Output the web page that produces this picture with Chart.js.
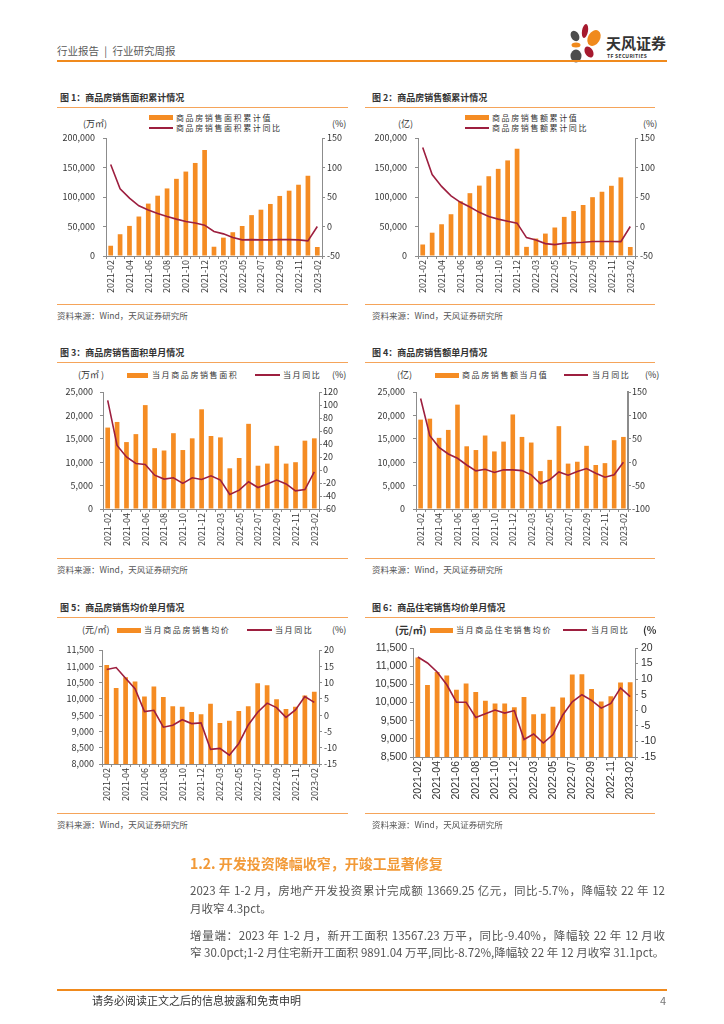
<!DOCTYPE html>
<html>
<head>
<meta charset="utf-8">
<script src="https://cdn.jsdelivr.net/npm/chart.js@4.4.0/dist/chart.umd.min.js"></script>
<style>
body{margin:0;width:724px;height:1024px;background:#fff;position:relative;overflow:hidden;font-family:"Noto Sans CJK SC",sans-serif;}
.t{position:absolute;white-space:nowrap;}
.hl{position:absolute;height:1px;background:#f5a45a;}
.title{font-size:9px;font-weight:bold;color:#333;line-height:12px;}
.src{font-size:8.5px;color:#555;line-height:12px;}
.lg{font-size:8px;letter-spacing:1.6px;color:#333;line-height:10px;}
.unit{font-size:9px;color:#333;line-height:10px;}
.box{position:absolute;background:#f58c23;}
.ln{position:absolute;height:2px;background:#9d1f3f;}
.body{font-size:11.5px;color:#555;line-height:16px;}
canvas{position:absolute;}
</style>
</head>
<body>

<!-- ヘッダー -->
<div class="t" style="left:57px;top:43px;font-size:10.5px;line-height:15px;color:#595959;">行业报告 <span style="display:inline-block;width:3px;"></span>|<span style="display:inline-block;width:3px;"></span> 行业研究周报</div>
<svg style="position:absolute;left:560px;top:20px;" width="50" height="46" viewBox="560 20 50 46">
  <ellipse cx="585" cy="31" rx="3" ry="7" fill="#a6192e" transform="rotate(10 585 31)"/>
  <ellipse cx="594" cy="38" rx="6" ry="8.5" fill="#f08a1d" transform="rotate(30 594 38)"/>
  <ellipse cx="575" cy="36" rx="4" ry="5.5" fill="#4d4d4d" transform="rotate(-30 575 36)"/>
  <ellipse cx="576" cy="45" rx="4.5" ry="2.5" fill="#f08a1d"/>
  <ellipse cx="589" cy="52" rx="4" ry="6" fill="#a6192e" transform="rotate(-30 589 52)"/>
  <ellipse cx="576" cy="56" rx="5.5" ry="6.5" fill="#4d4d4d"/>
</svg>
<div class="t" style="left:606px;top:34px;font-size:15px;font-weight:bold;line-height:18px;color:#333;">天风证券</div>
<div class="t" style="left:607px;top:53px;font-size:5px;font-weight:bold;line-height:6px;color:#333;letter-spacing:0.3px;">TF SECURITIES</div>
<div style="position:absolute;left:57px;top:60px;width:610px;height:2px;background:#f08a1d;"></div>

<!-- 図1 -->
<div class="t title" style="left:60px;top:92px;">图 1：商品房销售面积累计情况</div>
<div class="hl" style="left:57px;top:107px;width:291px;"></div>
<div class="box" style="left:149px;top:115px;width:24px;height:5px;"></div>
<div class="t lg" style="left:176px;top:113px;">商品房销售面积累计值</div>
<div class="ln" style="left:149px;top:126.5px;width:24px;"></div>
<div class="t lg" style="left:176px;top:122.5px;">商品房销售面积累计同比</div>
<div class="t unit" style="left:83px;top:119px;">(万㎡)</div>
<div class="t unit" style="left:332px;top:119px;">(%)</div>
<canvas id="c1" width="293" height="190" style="left:57px;top:110px;"></canvas>
<div class="hl" style="left:57px;top:304px;width:291px;"></div>
<div class="t src" style="left:57px;top:308.5px;">资料来源：Wind，天风证券研究所</div>

<!-- 図2 -->
<div class="t title" style="left:372px;top:92px;">图 2：商品房销售额累计情况</div>
<div class="hl" style="left:365px;top:107px;width:290px;"></div>
<div class="box" style="left:465px;top:115px;width:24px;height:5px;"></div>
<div class="t lg" style="left:492px;top:113px;">商品房销售额累计值</div>
<div class="ln" style="left:465px;top:126.5px;width:24px;"></div>
<div class="t lg" style="left:492px;top:122.5px;">商品房销售额累计同比</div>
<div class="t unit" style="left:398px;top:119px;">(亿)</div>
<div class="t unit" style="left:643px;top:119px;">(%)</div>
<canvas id="c2" width="290" height="190" style="left:365px;top:110px;"></canvas>
<div class="hl" style="left:365px;top:304px;width:290px;"></div>
<div class="t src" style="left:372px;top:308.5px;">资料来源：Wind，天风证券研究所</div>

<!-- 図3 -->
<div class="t title" style="left:60px;top:347px;">图 3：商品房销售面积单月情况</div>
<div class="hl" style="left:57px;top:362px;width:291px;"></div>
<div class="box" style="left:127px;top:372.5px;width:21px;height:5px;"></div>
<div class="t lg" style="left:152px;top:370px;">当月商品房销售面积</div>
<div class="ln" style="left:255px;top:374px;width:25px;"></div>
<div class="t lg" style="left:283px;top:370px;">当月同比</div>
<div class="t unit" style="left:78px;top:370px;">(万㎡ )</div>
<div class="t unit" style="left:332px;top:370px;">(%)</div>
<canvas id="c3" width="293" height="189" style="left:57px;top:365px;"></canvas>
<div class="hl" style="left:57px;top:558px;width:291px;"></div>
<div class="t src" style="left:57px;top:563px;">资料来源：Wind，天风证券研究所</div>

<!-- 図4 -->
<div class="t title" style="left:372px;top:347px;">图 4：商品房销售额单月情况</div>
<div class="hl" style="left:365px;top:362px;width:290px;"></div>
<div class="box" style="left:435px;top:372.5px;width:24px;height:5px;"></div>
<div class="t lg" style="left:462px;top:370px;">商品房销售额当月值</div>
<div class="ln" style="left:564px;top:374px;width:24px;"></div>
<div class="t lg" style="left:592px;top:370px;">当月同比</div>
<div class="t unit" style="left:397px;top:370px;">(亿)</div>
<div class="t unit" style="left:645px;top:370px;">(%)</div>
<canvas id="c4" width="290" height="189" style="left:365px;top:365px;"></canvas>
<div class="hl" style="left:365px;top:558px;width:290px;"></div>
<div class="t src" style="left:372px;top:563px;">资料来源：Wind，天风证券研究所</div>

<!-- 図5 -->
<div class="t title" style="left:60px;top:602px;">图 5：商品房销售均价单月情况</div>
<div class="hl" style="left:57px;top:617px;width:291px;"></div>
<div class="box" style="left:117px;top:628px;width:24px;height:4.5px;"></div>
<div class="t lg" style="left:144px;top:625px;">当月商品房销售均价</div>
<div class="ln" style="left:247px;top:629px;width:25px;"></div>
<div class="t lg" style="left:275px;top:625px;">当月同比</div>
<div class="t unit" style="left:82px;top:625px;">(元/㎡)</div>
<div class="t unit" style="left:332px;top:625px;">(%)</div>
<canvas id="c5" width="293" height="189" style="left:57px;top:620px;"></canvas>
<div class="hl" style="left:57px;top:813px;width:291px;"></div>
<div class="t src" style="left:57px;top:818px;">资料来源：Wind，天风证券研究所</div>

<!-- 図6 -->
<div class="t title" style="left:372px;top:602px;">图 6：商品住宅销售均价单月情况</div>
<div class="hl" style="left:365px;top:617px;width:290px;"></div>
<div class="box" style="left:430px;top:628px;width:23px;height:5px;"></div>
<div class="t lg" style="left:456px;top:625px;">当月商品住宅销售均价</div>
<div class="ln" style="left:563px;top:629px;width:24px;"></div>
<div class="t lg" style="left:591px;top:625px;">当月同比</div>
<div class="t unit" style="left:395px;top:624px;font-size:10px;font-weight:bold;line-height:12px;">(元/㎡)</div>
<div style="position:absolute;left:0;top:0;width:656px;height:1024px;overflow:hidden;">
  <div class="t unit" style="left:643px;top:624px;font-size:10px;font-weight:bold;line-height:12px;">(%)</div>
  <canvas id="c6" width="300" height="185" style="left:365px;top:620px;"></canvas>
</div>
<div class="hl" style="left:365px;top:813px;width:290px;"></div>
<div class="t src" style="left:372px;top:818px;">资料来源：Wind，天风证券研究所</div>

<!-- 本文 -->
<div class="t" style="left:190px;top:853px;font-size:14px;font-weight:bold;color:#f29a38;line-height:20px;">1.2. 开发投资降幅收窄，开竣工显著修复</div>
<div class="t body" style="left:190px;top:882px;width:475px;text-align:justify;text-align-last:justify;">2023 年 1-2 月，房地产开发投资累计完成额 13669.25 亿元，同比-5.7%，降幅较 22 年 12</div>
<div class="t body" style="left:190px;top:900px;">月收窄 4.3pct。</div>
<div class="t body" style="left:190px;top:927px;width:475px;text-align:justify;text-align-last:justify;">增量端：2023 年 1-2 月，新开工面积 13567.23 万平，同比-9.40%，降幅较 22 年 12 月收</div>
<div class="t body" style="left:190px;top:944px;">窄 30.0pct;1-2 月住宅新开工面积 9891.04 万平,同比-8.72%,降幅较 22 年 12 月收窄 31.1pct。</div>

<!-- フッター -->
<div style="position:absolute;left:57px;top:989px;width:610px;height:1.5px;background:#f08a1d;"></div>
<div class="t" style="left:92px;top:993px;font-size:11px;line-height:15px;color:#333;">请务必阅读正文之后的信息披露和免责申明</div>
<div class="t" style="left:660px;top:993px;font-size:11px;line-height:15px;color:#777;">4</div>

<script>
// 月（1月は2月と合算）
const months = ['2021-02','2021-03','2021-04','2021-05','2021-06','2021-07','2021-08','2021-09','2021-10','2021-11','2021-12',
  '2022-02','2022-03','2022-04','2022-05','2022-06','2022-07','2022-08','2022-09','2022-10','2022-11','2022-12','2023-02'];

// 図1：販売面積累計（万㎡）と同比（%）
const areaCum = [17400, 36900, 51000, 66900, 88800, 102200, 114500, 130800, 143100, 157700, 179700,
  15700, 31100, 40300, 50900, 69300, 78500, 88200, 101800, 110700, 120800, 136000, 15300];
const areaCumYoy = [105, 64, 48, 35, 28, 22, 17, 12.5, 8.5, 6, 2.3,
  -8.5, -12.5, -18.7, -22.7, -22.2, -22.7, -22.7, -22, -22.2, -22.7, -24.3, 0];

// 図2：販売額累計（億）と同比（%）
const salesCum = [19500, 39500, 53800, 70800, 92700, 106500, 119300, 135200, 147700, 162000, 181800,
  15500, 29600, 38000, 48300, 66300, 76200, 86400, 99700, 108900, 119000, 133300, 15300];
const salesCumYoy = [134, 88, 68, 52, 41, 33, 24, 17, 12.5, 9, 5.7,
  -18.8, -22.7, -29, -30.7, -28.4, -27.3, -26.7, -25.3, -25.3, -25.3, -25.6, 0];

// 図3：単月販売面積（万㎡）と同比（%）
const areaMon = [17400, 18600, 14300, 16000, 22200, 13000, 12500, 16200, 12600, 15100, 21300,
  15600, 15300, 8700, 10900, 18200, 9250, 9700, 13500, 9700, 10000, 14600, 15100];
const areaMonYoy = [107, 37.7, 20, 10, 8.5, -8, -14, -12, -20.5, -12, -14.5,
  -9, -15.5, -37.5, -31, -18, -27, -21.5, -15.5, -21.5, -32, -30, -2.7];

// 図4：単月販売額（億）と同比（%）
const salesMon = [19100, 19300, 15200, 16900, 22300, 13400, 12600, 15700, 12300, 14400, 20200,
  15400, 14200, 8100, 10500, 17700, 9700, 10100, 13500, 9400, 9800, 14700, 15400];
const salesMonYoy = [136, 56.5, 31.7, 17.6, 8.4, -6, -18.6, -15, -22, -16, -16.4,
  -18, -27, -46, -37.7, -20.7, -27.8, -20, -13.6, -23.5, -32, -27, 0];

// 図5：商品房平均価格（元/㎡）と同比（%）
const price = [11040, 10330, 10660, 10530, 10070, 10380, 10060, 9770, 9760, 9600, 9530,
  9850, 9260, 9330, 9630, 9770, 10480, 10420, 9990, 9690, 9760, 10100, 10220];
const priceYoy = [14.0, 14.6, 11.3, 8.1, 1.1, 1.5, -3.7, -3.1, -1.4, -2.6, -2.4,
  -10.5, -10.2, -12.3, -8.7, -3.0, 0.9, 3.7, 2.3, -0.7, 1.6, 5.7, 3.9];

// 図6：住宅平均価格（元/㎡）と同比（%）
const resPrice = [11240, 10480, 10840, 10740, 10350, 10520, 10290, 10050, 9970, 9970, 9870,
  10150, 9680, 9690, 9880, 10140, 10770, 10780, 10370, 10030, 10170, 10550, 10560];
const resPriceYoy = [17.1, 15.2, 12.3, 8.2, 2.6, 2.6, -2.3, -1.1, 0.1, -0.9, -0.1,
  -9.4, -7.6, -10.5, -7.8, -1.6, 2.7, 5.0, 3.2, 0.7, 2.2, 7.2, 4.4];

Chart.defaults.font.family = '"Noto Sans CJK SC", sans-serif';
Chart.defaults.color = '#333';

var barColor = '#f58c23';
var lineColor = '#9d1f3f';
var axisColor = '#8c8c8c';

function fmt(v){
  return v.toLocaleString('en-US');
}

// グラフを作る
function makeChart(id, bars, line, s){
  var ctx = document.getElementById(id).getContext('2d');
  var font = { size: s.fs, family: s.ff };
  return new Chart(ctx, {
    type: 'bar',
    data: {
      labels: months,
      datasets: [
        { type: 'line', data: line, yAxisID: 'y1', borderColor: lineColor, borderWidth: 1.6,
          pointRadius: 0, tension: 0, order: 0 },
        { type: 'bar', data: bars, yAxisID: 'y', backgroundColor: barColor,
          barPercentage: 0.5, categoryPercentage: 1, order: 1 }
      ]
    },
    options: {
      animation: false,
      responsive: false,
      layout: { padding: { top: s.pt, left: 0, right: 0, bottom: 0 } },
      plugins: { legend: { display: false }, tooltip: { enabled: false } },
      scales: {
        x: {
          grid: { drawOnChartArea: false, tickLength: 3, color: axisColor },
          border: { color: axisColor },
          ticks: { autoSkip: false, minRotation: 90, maxRotation: 90, padding: 1, font: font,
            callback: function(v, i){ return i % 2 === 0 ? months[i] : ''; } },
          afterFit: function(sc){ sc.height = s.xh; }
        },
        y: {
          position: 'left', min: s.yMin, max: s.yMax,
          grid: { drawOnChartArea: false, tickLength: 3, color: axisColor },
          border: { color: axisColor },
          ticks: { autoSkip: false, stepSize: s.yStep, padding: s.lp, font: font, callback: fmt },
          afterFit: function(sc){ sc.width = s.lw; }
        },
        y1: {
          position: 'right', min: s.rMin, max: s.rMax,
          grid: { drawOnChartArea: false, tickLength: 3, color: axisColor },
          border: { color: axisColor, width: s.rb || 1 },
          ticks: { autoSkip: false, stepSize: s.rStep, padding: s.rp, font: font },
          afterFit: function(sc){ sc.width = s.rw; }
        }
      }
    }
  });
}

var cjk = '"Noto Sans CJK SC", sans-serif';
var arial = '"Liberation Sans", Arial, sans-serif';

makeChart('c1', areaCum, areaCumYoy, { pt: 28, xh: 44, lw: 49, rw: 28, lp: 8, rp: 2, fs: 9, ff: cjk,
  yMin: 0, yMax: 200000, yStep: 50000, rMin: -50, rMax: 150, rStep: 50 });
makeChart('c2', salesCum, salesCumYoy, { pt: 28, xh: 44, lw: 53, rw: 20, lp: 8, rp: 2, fs: 9, ff: cjk,
  yMin: 0, yMax: 200000, yStep: 50000, rMin: -50, rMax: 150, rStep: 50 });
makeChart('c3', areaMon, areaMonYoy, { pt: 27, xh: 45, lw: 46, rw: 31, lp: 7, rp: 1, fs: 9, ff: cjk,
  yMin: 0, yMax: 25000, yStep: 5000, rMin: -60, rMax: 120, rStep: 20 });
makeChart('c4', salesMon, salesMonYoy, { pt: 27, xh: 45, lw: 51, rw: 27, lp: 8, rp: 1, fs: 9, ff: cjk, rb: 2,
  yMin: 0, yMax: 25000, yStep: 5000, rMin: -100, rMax: 150, rStep: 50 });
makeChart('c5', price, priceYoy, { pt: 30, xh: 45, lw: 45, rw: 31, lp: 5, rp: 2, fs: 9, ff: cjk,
  yMin: 8000, yMax: 11500, yStep: 500, rMin: -15, rMax: 20, rStep: 5 });
makeChart('c6', resPrice, resPriceYoy, { pt: 28, xh: 48, lw: 48, rw: 30, lp: 3, rp: 3, fs: 10.5, ff: arial,
  yMin: 8500, yMax: 11500, yStep: 500, rMin: -15, rMax: 20, rStep: 5 });
</script>
</body>
</html>
